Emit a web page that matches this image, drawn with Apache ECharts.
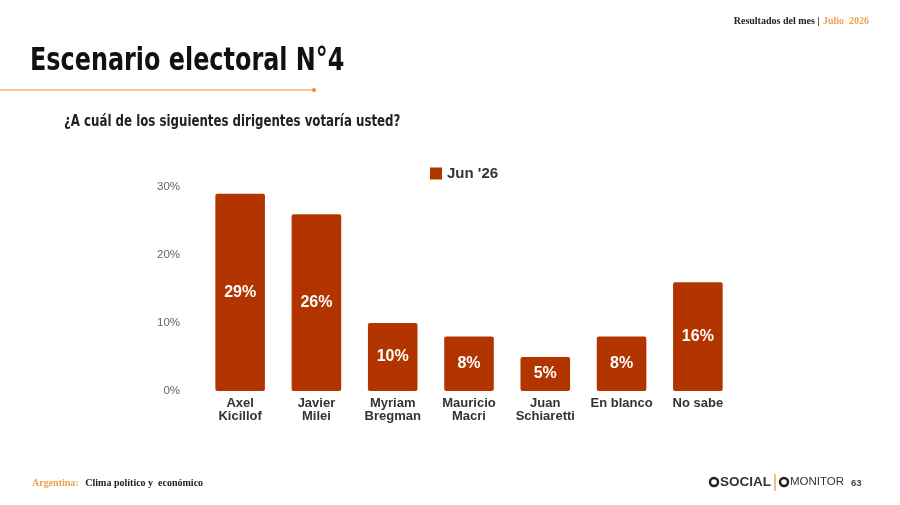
<!DOCTYPE html>
<html>
<head>
<meta charset="utf-8">
<script src="https://cdn.jsdelivr.net/npm/echarts@6/dist/echarts.min.js"></script>
<style>
  html, body { margin: 0; padding: 0; background: #fff; }
  #main { width: 900px; height: 505px; }
</style>
</head>
<body>
<div id="main"></div>
<script>
// datos del gráfico
var categorias = ['Axel\nKicillof', 'Javier\nMilei', 'Myriam\nBregman', 'Mauricio\nMacri', 'Juan\nSchiaretti', 'En blanco', 'No sabe'];
var valores = [29, 26, 10, 8, 5, 8, 16];
var serieNombre = "Jun '26";
var ticksY = [0, 10, 20, 30];

var myChart = echarts.init(document.getElementById('main'));

var serif = '"Liberation Serif", "DejaVu Serif", serif';
var cond = '"DejaVu Sans Condensed", "Liberation Sans Narrow", "Roboto", sans-serif';

option = {
    backgroundColor: '#ffffff',
    textStyle: { fontFamily: '"Liberation Sans", Arial, sans-serif' },
    legend: {
        top: 161, left: 425,
        itemWidth: 12, itemHeight: 12, itemGap: 8,
        icon: 'rect',
        textStyle: { fontSize: 15, fontWeight: 'bold', color: '#333' },
        data: [serieNombre]
    },
    grid: { left: 202, right: 164, top: 187, bottom: 114 },
    xAxis: {
        type: 'category',
        data: categorias,
        axisLine: { show: false },
        axisTick: { show: false },
        axisLabel: {
            interval: 0, margin: 6,
            color: '#333', fontWeight: 'bold', fontSize: 13, lineHeight: 13
        }
    },
    yAxis: {
        type: 'value',
        min: ticksY[0], max: ticksY[ticksY.length - 1], interval: 10,
        splitLine: { show: false },
        axisLine: { show: false },
        axisTick: { show: false },
        axisLabel: {
            margin: 22, color: '#666', fontSize: 11.5,
            formatter: function (v) { return v + '%'; }
        }
    },
    series: [
        {
            name: serieNombre,
            type: 'bar',
            barWidth: '65%',
            data: valores,
            itemStyle: { color: '#B23500', borderRadius: 2 },
            label: {
                show: true,
                position: 'inside',
                color: '#fff', fontWeight: 'bold', fontSize: 16,
                formatter: '{c}%'
            }
        }
    ],
    graphic: [
        // título y subtítulo (condensados)
        {
            type: 'text', x: 30, y: 62, scaleX: 0.83,
            style: {
                text: 'Escenario electoral N°4', verticalAlign: 'middle',
                fontFamily: cond, fontWeight: 'bold', fontSize: 32, fill: '#111'
            }
        },
        {
            type: 'text', x: 64, y: 122, scaleX: 0.82,
            style: {
                text: '¿A cuál de los siguientes dirigentes votaría usted?', verticalAlign: 'middle',
                fontFamily: cond, fontWeight: 'bold', fontSize: 16, fill: '#222'
            }
        },
        { type: 'line', shape: { x1: 0, y1: 90, x2: 314, y2: 90 }, style: { stroke: '#F08A3C', lineWidth: 1.2 } },
        { type: 'circle', shape: { cx: 314, cy: 90, r: 2 }, style: { fill: '#F08A3C' } },
        {
            type: 'text', right: 31, top: 15,
            style: {
                text: '{a|Resultados del mes |} {b|Julio  2026}',
                rich: {
                    a: { fontFamily: serif, fontWeight: 'bold', fontSize: 10, fill: '#222' },
                    b: { fontFamily: serif, fontWeight: 'bold', fontSize: 10, fill: '#F0A050' }
                }
            }
        },
        {
            type: 'text', left: 32, top: 477,
            style: {
                text: '{a|Argentina:}  {b|Clima político y  económico}',
                rich: {
                    a: { fontFamily: serif, fontWeight: 'bold', fontSize: 10, fill: '#F0A050' },
                    b: { fontFamily: serif, fontWeight: 'bold', fontSize: 10, fill: '#222' }
                }
            }
        },
        // logos
        { type: 'circle', shape: { cx: 714, cy: 482, r: 4 }, style: { fill: 'none', stroke: '#222', lineWidth: 2.5 } },
        {
            type: 'text', left: 720, top: 475,
            style: { text: 'SOCIAL', fontSize: 13.5, fontWeight: 'bold', fill: '#333', fontFamily: '"Liberation Sans", Arial, sans-serif' }
        },
        { type: 'line', shape: { x1: 775, y1: 474, x2: 775, y2: 491 }, style: { stroke: '#E89040', lineWidth: 1.2 } },
        { type: 'circle', shape: { cx: 784, cy: 482, r: 4 }, style: { fill: 'none', stroke: '#222', lineWidth: 2.5 } },
        {
            type: 'text', left: 790, top: 476,
            style: { text: 'MONITOR', fontSize: 11.5, fill: '#333', fontFamily: '"Liberation Sans", Arial, sans-serif' }
        },
        {
            type: 'text', left: 851, top: 478,
            style: { text: '63', fontSize: 9.5, fontWeight: 'bold', fill: '#444' }
        }
    ]
};

myChart.setOption(option);
</script>
</body>
</html>
